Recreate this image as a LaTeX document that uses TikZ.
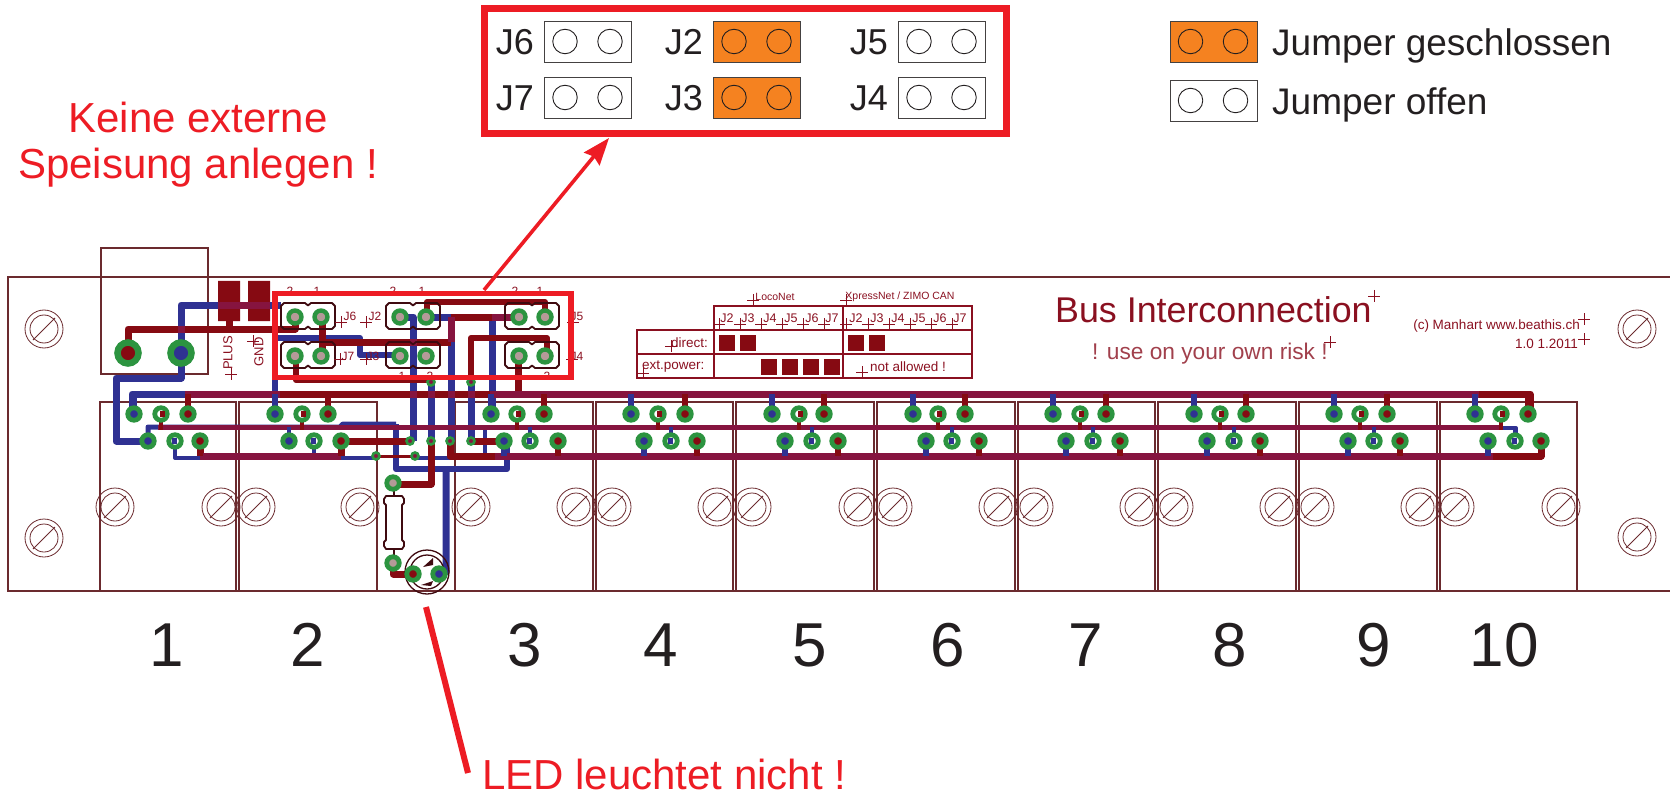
\documentclass[tikz,border=0pt]{standalone}
\usepackage{fontspec}
\setmainfont{Liberation Sans}
\usetikzlibrary{arrows.meta}
\definecolor{pcbline}{HTML}{6B2A2E}
\definecolor{pcbdark}{HTML}{3F0A10}
\definecolor{pcbtext}{HTML}{8A1020}
\definecolor{trackblue}{HTML}{2F3192}
\definecolor{trackred}{HTML}{860A12}
\definecolor{trackmix}{HTML}{86143F}
\definecolor{padgreen}{HTML}{2C9440}
\definecolor{padcore}{HTML}{B49A98}
\definecolor{markred}{HTML}{ED1C24}
\definecolor{jumperon}{HTML}{F58220}
\definecolor{inkdark}{HTML}{231F20}
\newcommand{\fs}[1]{\fontsize{#1}{#1}\selectfont}
\begin{document}
\begin{tikzpicture}[x=1pt,y=-1pt,
	outline/.style={draw=pcbline, line width=1.2pt},
	screw/.style={draw=pcbline, line width=0.8pt},
	blue track/.style={draw=trackblue, line width=#1, line join=round},
	blue track/.default=7pt,
	red track/.style={draw=trackred, line width=#1, line join=round},
	red track/.default=7pt,
	mix track/.style={draw=trackmix, line width=#1, line join=round},
	mix track/.default=7pt,
	pad/.style={circle, draw=padgreen, line width=4.8pt, inner sep=0pt, minimum size=12.5pt},
	jumper pad/.style={pad, fill=padcore, line width=4.4pt, minimum size=13pt},
	plug pad/.style={pad, line width=6.5pt, minimum size=21pt},
	via/.style={circle, draw=padgreen, fill=trackmix, line width=2.6pt, inner sep=0pt, minimum size=7pt},
	header/.style={draw=pcbdark, line width=1.8pt, line join=round},
	pcb cross/.style={draw=pcbtext, line width=0.9pt},
	pcb label/.style={text=pcbtext, inner sep=0pt},
	table line/.style={draw=pcbtext, line width=1.5pt},
	mark frame/.style={draw=markred, line width=#1},
	jumper box/.style={draw=inkdark!85, line width=1pt, minimum width=87pt, minimum height=41pt, inner sep=0pt, anchor=north west},
	jumper hole/.style={circle, draw=inkdark, line width=0.9pt, minimum size=24.5pt, inner sep=0pt},
	big label/.style={text=inkdark, inner sep=0pt},
	red label/.style={text=markred, inner sep=0pt}]
	\useasboundingbox (0,0) rectangle (1670,794);

	% board and modules
	\draw[outline] (1670,277) -- (8,277) -- (8,591) -- (1670,591);
	\draw[outline] (101,248) rectangle (208,374);
	\foreach \ml/\mr in {100/236,239/377,455/593,596/733,736/874,877/1015,1018/1155,1158/1296,1299/1437,1440/1577}
		\draw[outline] (\ml,591) -- (\ml,402) -- (\mr,402) -- (\mr,591);
	\foreach \sx/\sy in {44/329,44/538,1637/329,1637/537,115/507,221/507,256/507,360/507,471/507,576/507,612/507,717/507,752/507,858/507,893/507,998/507,1034/507,1139/507,1174/507,1279/507,1315/507,1420/507,1455/507,1561/507} {
		\draw[screw] (\sx,\sy) circle[radius=19] (\sx,\sy) circle[radius=14];
		\draw[screw] (\sx-11,\sy+11) -- (\sx+11,\sy-11);
	}

	% power blocks
	\fill[trackred] (218,281) rectangle (240,321) (248,281) rectangle (270,321);

	% blue tracks
	\draw[blue track] (132,414) -- (132,394) -- (190,394);
	\draw[blue track] (281,305) -- (181,305) -- (181,378) -- (116,378) -- (116,441) -- (148,441);
	\draw[blue track=6pt] (275,414) -- (275,338) -- (360,338) -- (360,355) -- (400,355);
	\draw[blue track] (400,317) -- (413,317) -- (413,441);
	\draw[blue track] (427,317) -- (451,317) -- (451,441);
	\draw[blue track] (431,382) -- (431,441);
	\draw[blue track] (471,382) -- (471,441);
	\draw[blue track] (492,414) -- (492,320);
	\draw[blue track=5pt] (148,441) -- (148,427) -- (340,427) -- (343,424) -- (396,424);
	\draw[blue track=6pt] (396,424) -- (396,469) -- (507,469) -- (507,441);
	\draw[blue track] (446,469) -- (446,572) -- (439,574);
	\draw[blue track=4pt] (175,441) -- (175,458) -- (373,458) (415,458) -- (485,458) -- (485,428);
	\draw[blue track=4pt] (485,458) -- (835,458);
	\draw[blue track=4pt] (314,441) -- (314,458);
	\draw[blue track=4pt] (1503,428) -- (1516,428) -- (1516,441);

	% red tracks
	\draw[red track] (128,353) -- (128,329) -- (295,329) -- (295,317);
	\draw[red track] (229,321) -- (229,329);
	\draw[red track] (322,317) -- (322,355);
	\draw[red track] (322,342) -- (451,342);
	\draw[red track] (451,317) -- (518,317);
	\draw[red track=6pt] (427,317) -- (427,302) -- (545,302) -- (545,317);
	\draw[red track=6pt] (296,355) -- (296,380) -- (431,380);
	\draw[red track=6pt] (471,382) -- (471,338) -- (547,338) -- (547,355);
	\draw[red track] (518,355) -- (518,394);
	\draw[red track] (280,394) -- (490,394);
	\draw[red track] (341,441) -- (410,441);
	\draw[red track] (431,441) -- (431,484) -- (394,484);
	\draw[red track] (471,441) -- (504,441);
	\draw[red track=3pt] (376,456) -- (415,456);
	\draw[red track] (393,563) -- (393,574) -- (413,574);
	\draw[red track] (1479,394) -- (1530,394) -- (1530,414);
	\draw[red track] (1493,456) -- (1541,456) -- (1541,441);
	\draw[red track] (450,441) -- (450,456) -- (495,456);
	\draw[red track] (200,441) -- (200,456);
	\draw[red track] (341,441) -- (341,456);

	% mixed copper where both layers lie over one another
	\draw[mix track] (185,394) -- (280,394) (490,394) -- (1479,394);
	\draw[mix track=5pt] (158,427) -- (1503,427);
	\draw[mix track] (200,456) -- (341,456) (495,456) -- (1493,456);
	\draw[mix track] (218,305) -- (270,305) (451,317) -- (451,342) (492,317) -- (515,317);
	\foreach \cx in {413,431,451,471}
		\draw[mix track] (\cx,390.5) -- (\cx,397.5);
	\draw[mix track] (177.5,329) -- (184.5,329) (413,338.5) -- (413,345.5);

	% module pads
	\foreach \pa/\pb/\pc/\pd/\pe/\pf [count=\m] in {134/161/188/148/175/200,275/302/328/289/314/341,491/517/544/504/530/558,631/658/685/644/671/697,772/799/824/785/812/838,913/938/965/926/952/979,1053/1080/1106/1066/1093/1120,1194/1220/1246/1207/1234/1260,1334/1360/1387/1348/1374/1400,1475/1501/1528/1488/1515/1541} {
		\draw[blue track=6pt] (\pa,394) -- (\pa,414);
		\ifnum\m>2 \draw[blue track=6pt] (\pd,441) -- (\pd,456); \fi
		\ifnum\m=2 \draw[blue track=4pt] (\pd,427) -- (\pd,441); \fi
		\draw[red track=6pt] (\pc,394) -- (\pc,414) (\pf,441) -- (\pf,456);
		\draw[red track=4.5pt] (\pb,414) -- (\pb,430);
		\ifnum\m>2 \draw[blue track=4pt] (\pe,427) -- (\pe,441); \fi
		\node[pad, fill=trackblue] (a\m) at (\pa,414) {};
		\node[pad, fill=white] (b\m) at (\pb,414) {};
		\node[pad, fill=trackred] (c\m) at (\pc,414) {};
		\node[pad, fill=trackblue] (d\m) at (\pd,441) {};
		\node[pad, fill=white] (e\m) at (\pe,441) {};
		\node[pad, fill=trackred] (f\m) at (\pf,441) {};
		\fill[trackred] (\pb-1,410.5) rectangle (\pb+3.5,417);
		\fill[trackblue] (\pe-3.5,438) rectangle (\pe+2,444);
	}

	% vias
	\foreach \vx/\vy [count=\v] in {410/441,431/441,450/441,471/441,376/456,415/456,431/382,471/382}
		\node[via] (via\v) at (\vx,\vy) {};

	% plug, jumper headers and resistor with led
	\node[plug pad, fill=trackred] (plugplus) at (128,353) {};
	\node[plug pad, fill=trackblue] (pluggnd) at (181,353) {};
	\foreach \hx/\hy/\hn in {308/316/J6,308/355/J7,413/316/J2,413/355/J3,532/316/J5,532/355/J4} {
		\draw[header] (\hx-24,\hy-13) -- (\hx-3,\hy-13) -- (\hx,\hy-10.5) -- (\hx+3,\hy-13) -- (\hx+24,\hy-13) -- (\hx+27,\hy-10) -- (\hx+27,\hy+10) -- (\hx+24,\hy+13) -- (\hx+3,\hy+13) -- (\hx,\hy+10.5) -- (\hx-3,\hy+13) -- (\hx-24,\hy+13) -- (\hx-27,\hy+10) -- (\hx-27,\hy-10) -- cycle;
		\node[jumper pad] (\hn a) at (\hx-13,\hy+1) {};
		\node[jumper pad] (\hn b) at (\hx+13,\hy+1) {};
	}
	\draw[header, fill=white] (386,496) -- (402,496) -- (404,499) -- (404,503) -- (402,505) -- (402,540) -- (404,542) -- (404,546) -- (402,549) -- (386,549) -- (384,546) -- (384,542) -- (386,540) -- (386,505) -- (384,503) -- (384,499) -- cycle;
	\draw[header] (394,491) -- (394,496) (394,549) -- (394,556);
	\draw[header, line width=1.3pt] (427,572) circle[radius=22] (427,572) circle[radius=17];
	\fill[pcbdark] (423,567) -- (433,558) -- (433,565) -- cycle (421,585) -- (433,581) -- (431,586) -- cycle;
	\node[pad, fill=padcore] (resa) at (393,483) {};
	\node[pad, fill=padcore] (resb) at (393,563) {};
	\node[pad, fill=trackred] (leda) at (413,574) {};
	\node[pad, fill=trackblue] (ledb) at (439,574) {};

	% print on the board
	\node[pcb label, font=\fs{13}, rotate=90] (plus) at (228,353) {PLUS};
	\node[pcb label, font=\fs{13}, rotate=90] (gnd) at (259,352) {GND};
	\foreach \lx/\ly/\lt [count=\i] in {350/316/J6,348/356/J7,375/316/J2,373/356/J3,577/316/J5,577/356/J4,290/291/2,317/291/1,393/291/2,422/291/1,515/291/2,540/291/1,402/376/1,430/376/2,520/376/1,547/376/2}
		\node[pcb label, font=\fs{12}] (print\i) at (\lx,\ly) {\lt};
	\foreach \tx [count=\i] in {727,748,770,791,812,832}
		\node[pcb label, font=\fs{12.5}] (loco\i) at (\tx,318) {J\the\numexpr\i+1\relax};
	\foreach \tx [count=\i] in {856,877,898,919,940,960}
		\node[pcb label, font=\fs{12.5}] (xpress\i) at (\tx,318) {J\the\numexpr\i+1\relax};
	\node[pcb label, font=\fs{10.5}] (loconet) at (775,297) {LocoNet};
	\node[pcb label, font=\fs{10.5}] (xpressnet) at (900,297) {XpressNet / ZIMO CAN};
	\node[pcb label, font=\fs{13.5}, anchor=east] (direct) at (708,343) {direct:};
	\node[pcb label, font=\fs{13.5}, anchor=west] (extpower) at (642,367) {ext.power:};
	\node[pcb label, font=\fs{13.5}, anchor=west] (notallowed) at (870,367) {not allowed !};
	\draw[table line] (714,330) -- (714,306) -- (972,306) -- (972,378) -- (637,378) -- (637,330) -- (972,330);
	\draw[table line] (637,354) -- (972,354) (714,330) -- (714,378) (843,306) -- (843,378);
	\foreach \qx/\qy in {719/335,740/335,848/335,869/335,761/359,782/359,803/359,824/359}
		\fill[trackred] (\qx,\qy) rectangle ++(16,16);
	\node[pcb label, font=\fs{35.8}, anchor=base west] (title) at (1055,322) {Bus Interconnection};
	\node[text=pcbtext!80, inner sep=0pt, font=\fs{22.7}, anchor=base west] (risk) at (1092,359) {! use on your own risk !};
	\node[pcb label, font=\fs{13.5}, anchor=base east] (maker) at (1580,329) {(c) Manhart www.beathis.ch};
	\node[pcb label, font=\fs{13.5}, anchor=base east] (version) at (1578,348) {1.0 1.2011};
	\foreach \px/\py in {341/322,340/359,366/322,366/359,573/322,572/359,231/374,253/341,753/300,846/300,719/324,740/324,761/324,782/324,803/324,824/324,846/324,868/324,889/324,910/324,931/324,952/324,671/346,643/373,862/372,1374/296,1330/342,1584/319,1584/339}
		\draw[pcb cross] (\px-6,\py) -- (\px+6,\py) (\px,\py-6) -- (\px,\py+6);

	% marks
	\node[mark frame=5.5pt, minimum width=296pt, minimum height=84pt, inner sep=0pt] (pcbframe) at (423,335.5) {};
	\node[mark frame=7pt, minimum width=522pt, minimum height=125pt, inner sep=0pt] (jumperframe) at (745,71) {};
	\coordinate (arrowstart) at (484,290);
	\coordinate (arrowtip) at (609,138);
	\draw[markred, line width=3.6pt, -{Stealth[length=27pt,width=20pt,inset=3pt]}] (arrowstart) -- (arrowtip);

	% jumper overview
	\foreach \jn/\jx/\jy/\jc in {J6/544/21/white,J7/544/77/white,J2/713/21/jumperon,J3/713/77/jumperon,J5/898/21/white,J4/898/77/white} {
		\node[jumper box, fill=\jc] (box\jn) at (\jx,\jy) {};
		\node[jumper hole] (hole\jn a) at (\jx+21,\jy+20.5) {};
		\node[jumper hole] (hole\jn b) at (\jx+66,\jy+20.5) {};
		\node[big label, font=\fs{36}, anchor=east] (text\jn) at (\jx-10,\jy+21) {\jn};
	}

	% legend
	\foreach \lgn/\lgy/\lgc/\lgt in {closed/21/jumperon/Jumper geschlossen,open/80/white/Jumper offen} {
		\node[jumper box, fill=\lgc] (box\lgn) at (1169.5,\lgy) {};
		\node[jumper hole] (hole\lgn a) at (1190.5,\lgy+20.5) {};
		\node[jumper hole] (hole\lgn b) at (1235.5,\lgy+20.5) {};
		\node[big label, font=\fs{37}, anchor=base west] (text\lgn) at (1272,\lgy+34.5) {\lgt};
	}

	% module numbers
	\foreach \nx/\nt in {167/1,308/2,525/3,661/4,810/5,948/6,1086/7,1230/8,1374/9,1504/10}
		\node[big label, font=\fs{62}, anchor=base] (num\nt) at (\nx,666) {\nt};

	% remarks
	\node[red label, font=\fs{42}, anchor=base] (extern1) at (198,133) {Keine externe};
	\node[red label, font=\fs{42}, anchor=base] (extern2) at (198,179) {Speisung anlegen !};
	\node[red label, font=\fs{42}, anchor=base west] (ledtext) at (482,789) {LED leuchtet nicht !};
	\coordinate (ledmark) at (426,607);
	\coordinate (ledend) at (468,773);
	\draw[markred, line width=6pt] (ledmark) -- (ledend);
\end{tikzpicture}
\end{document}
